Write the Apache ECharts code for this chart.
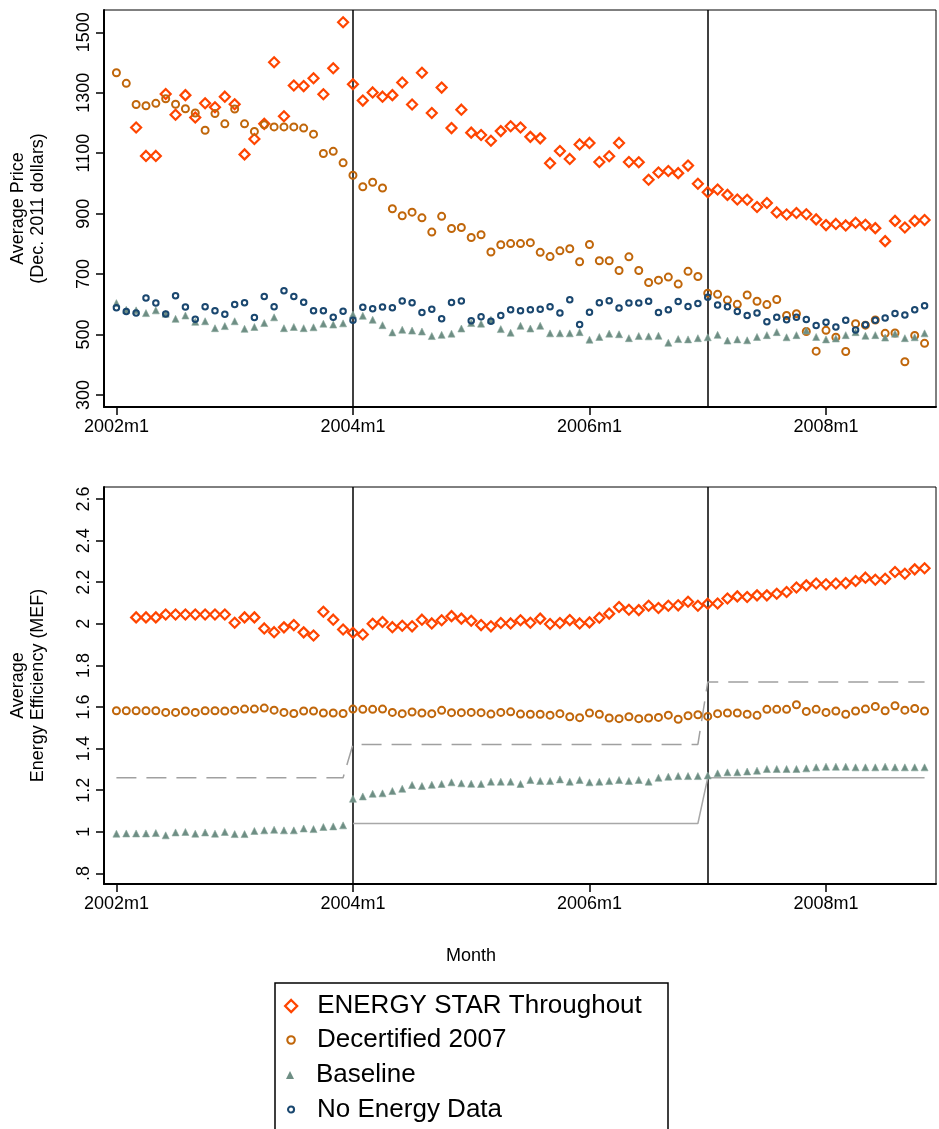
<!DOCTYPE html>
<html>
<head>
<meta charset="utf-8">
<script src="https://cdn.jsdelivr.net/npm/echarts@6/dist/echarts.min.js"></script>
<style>
  html, body { margin: 0; padding: 0; background: #fff; }
  #chart { width: 939px; height: 1129px; }
</style>
</head>
<body>
<div id="chart"></div>
<script>
// months are indexed from 2002m1 (= 0)
const monthTicks = [0, 24, 48, 72];
const monthTickLabels = ['2002m1', '2004m1', '2006m1', '2008m1'];
const eventMonths = [24, 60];

const priceTicks = [300, 500, 700, 900, 1100, 1300, 1500];
const mefTicks = [0.8, 1, 1.2, 1.4, 1.6, 1.8, 2, 2.2, 2.4, 2.6];
const mefTickLabels = ['.8', '1', '1.2', '1.4', '1.6', '1.8', '2', '2.2', '2.4', '2.6'];

const seriesNames = ['ENERGY STAR Throughout', 'Decertified 2007', 'Baseline', 'No Energy Data'];

// average price (Dec. 2011 dollars), 2002m1 .. 2008m11
const esPrice = [
  null, null, 1185, 1091, 1091, 1296, 1227, 1292, 1218, 1265,
  1252, 1287, 1262, 1096, 1147, 1197, 1401, 1222, 1324, 1322,
  1348, 1295, 1381, 1533, 1328, 1274, 1301, 1287, 1292, 1334,
  1261, 1366, 1233, 1317, 1183, 1244, 1168, 1160, 1141, 1173,
  1189, 1185, 1154, 1149, 1067, 1107, 1081, 1129, 1134, 1071,
  1090, 1134, 1071, 1070, 1012, 1036, 1041, 1034, 1059, 999,
  971, 980, 962, 947, 946, 922, 935, 904, 897, 902,
  898, 881, 862, 866, 861, 870, 863, 852, 809, 876,
  854, 876, 879
];
const decPrice = [
  1366, 1331, 1261, 1257, 1265, 1280, 1262, 1247, 1233, 1176,
  1231, 1197, 1246, 1197, 1172, 1194, 1187, 1187, 1187, 1183,
  1163, 1099, 1106, 1068, 1027, 989, 1004, 985, 916, 893,
  905, 886, 839, 891, 851, 854, 821, 830, 773, 797,
  801, 801, 804, 772, 758, 777, 784, 741, 798, 744,
  744, 712, 757, 712, 672, 680, 690, 667, 709, 692,
  637, 633, 614, 600, 631, 610, 599, 616, 563, 569,
  510, 445, 514, 491, 444, 536, 531, 548, 504, 505,
  410, 497, 471
];
const basePrice = [
  604, 582, 580, 571, 580, 569, 552, 563, 542, 544,
  521, 528, 544, 519, 525, 538, 557, 521, 525, 521,
  524, 536, 533, 537, 566, 562, 549, 531, 507, 516,
  513, 510, 495, 499, 503, 520, 538, 536, 549, 518,
  506, 529, 520, 529, 504, 504, 504, 508, 483, 492,
  503, 501, 488, 495, 494, 496, 473, 485, 484, 488,
  491, 499, 480, 484, 481, 492, 498, 508, 491, 498,
  513, 492, 484, 487, 498, 508, 496, 498, 490, 503,
  488, 491, 504
];
const noDataPrice = [
  589, 576, 571, 621, 604, 568, 628, 591, 551, 592,
  579, 567, 599, 605, 556, 626, 592, 645, 626, 607,
  579, 579, 557, 577, 547, 590, 585, 591, 589, 611,
  605, 573, 584, 552, 606, 611, 546, 559, 544, 563,
  582, 579, 582, 584, 592, 571, 615, 533, 574, 605,
  612, 588, 604, 604, 610, 573, 582, 609, 593, 603,
  623, 598, 592, 576, 563, 571, 542, 557, 549, 557,
  550, 530, 541, 525, 547, 515, 532, 547, 555, 570,
  565, 582, 595
];

// average energy efficiency (MEF)
const esMef = [
  null, null, 2.031, 2.031, 2.031, 2.045, 2.045, 2.045, 2.045, 2.045,
  2.045, 2.045, 2.005, 2.031, 2.031, 1.978, 1.960, 1.983, 1.994, 1.959,
  1.944, 2.058, 2.020, 1.973, 1.957, 1.949, 2.000, 2.009, 1.984, 1.991,
  1.988, 2.020, 2.002, 2.017, 2.037, 2.025, 2.015, 1.994, 1.988, 2.004,
  2.002, 2.017, 2.005, 2.025, 1.999, 2.004, 2.018, 2.002, 2.007, 2.029,
  2.049, 2.081, 2.068, 2.066, 2.087, 2.076, 2.087, 2.089, 2.106, 2.087,
  2.097, 2.098, 2.122, 2.132, 2.129, 2.137, 2.137, 2.145, 2.153, 2.175,
  2.185, 2.194, 2.190, 2.194, 2.196, 2.206, 2.222, 2.212, 2.217, 2.249,
  2.241, 2.262, 2.267
];
const decMef = [
  1.582, 1.582, 1.582, 1.582, 1.582, 1.574, 1.574, 1.581, 1.574, 1.582,
  1.582, 1.581, 1.585, 1.590, 1.590, 1.595, 1.585, 1.574, 1.569, 1.581,
  1.581, 1.571, 1.571, 1.569, 1.590, 1.589, 1.589, 1.590, 1.574, 1.568,
  1.576, 1.571, 1.568, 1.584, 1.573, 1.573, 1.574, 1.573, 1.566, 1.574,
  1.577, 1.566, 1.565, 1.565, 1.561, 1.568, 1.553, 1.549, 1.571, 1.565,
  1.547, 1.544, 1.553, 1.544, 1.547, 1.550, 1.561, 1.541, 1.558, 1.563,
  1.555, 1.568, 1.571, 1.571, 1.565, 1.560, 1.589, 1.589, 1.589, 1.611,
  1.579, 1.589, 1.574, 1.581, 1.565, 1.581, 1.590, 1.603, 1.582, 1.606,
  1.585, 1.593, 1.581
];
const baseMef = [
  0.991, 0.992, 0.992, 0.992, 0.994, 0.983, 0.997, 0.999, 0.991, 0.997,
  0.991, 0.999, 0.989, 0.989, 1.004, 1.007, 1.010, 1.007, 1.007, 1.016,
  1.013, 1.023, 1.026, 1.031, 1.159, 1.170, 1.183, 1.185, 1.196, 1.207,
  1.225, 1.220, 1.226, 1.230, 1.238, 1.233, 1.231, 1.230, 1.241, 1.241,
  1.241, 1.230, 1.249, 1.244, 1.244, 1.252, 1.241, 1.249, 1.238, 1.241,
  1.244, 1.249, 1.244, 1.249, 1.241, 1.260, 1.265, 1.268, 1.268, 1.268,
  1.271, 1.281, 1.286, 1.286, 1.290, 1.294, 1.302, 1.302, 1.302, 1.302,
  1.305, 1.310, 1.313, 1.313, 1.313, 1.310, 1.310, 1.310, 1.313, 1.310,
  1.310, 1.310, 1.310
];

// efficiency standards (step lines)
const starStdMonths = [0, 23, 24, 59, 60, 82];
const starStdValues = [1.26, 1.26, 1.42, 1.42, 1.72, 1.72];
const fedStdMonths = [24, 59, 60, 82];
const fedStdValues = [1.04, 1.04, 1.26, 1.26];

const FONT = "'Liberation Sans', Arial, Helvetica, sans-serif";
const ES_COLOR = '#ff4500';
const DEC_COLOR = '#c0660a';
const BASE_COLOR = '#6e8e84';
const NODATA_COLOR = '#1a476f';

function pairs(values) {
  return values.map((v, i) => [i, v]).filter((d) => d[1] != null);
}
function pairsAt(months, values) {
  return months.map((m, i) => [m, values[i]]);
}
function pickLabel(ticks, labels) {
  return (v) => {
    const i = ticks.findIndex((t) => Math.abs(t - v) < 1e-6);
    return i < 0 ? '' : labels[i];
  };
}

function xAxisFor(gridIndex) {
  return {
    type: 'value',
    gridIndex: gridIndex,
    min: -1.26,
    max: 83.16,
    axisLine: { show: true, onZero: false, lineStyle: { color: '#000', width: 2 } },
    axisTick: { show: true, customValues: monthTicks, length: 8, lineStyle: { color: '#000', width: 1.5 } },
    axisLabel: {
      customValues: monthTicks,
      formatter: pickLabel(monthTicks, monthTickLabels),
      fontSize: 18, color: '#000', fontFamily: FONT, margin: 11,
    },
    splitLine: { show: false },
  };
}

function yAxisFor(gridIndex, min, max, ticks, labels, name) {
  return {
    type: 'value',
    gridIndex: gridIndex,
    min: min,
    max: max,
    axisLine: { show: true, onZero: false, lineStyle: { color: '#000', width: 2 } },
    axisTick: { show: true, customValues: ticks, length: 8, lineStyle: { color: '#000', width: 1.5 } },
    axisLabel: {
      customValues: ticks,
      formatter: pickLabel(ticks, labels),
      rotate: 90,
      fontSize: 18, color: '#000', fontFamily: FONT, margin: 11,
    },
    splitLine: { show: false },
    name: name,
    nameLocation: 'middle',
    nameRotate: 90,
    nameGap: 56,
    nameTextStyle: { fontSize: 18, lineHeight: 20, color: '#000', fontFamily: FONT },
  };
}

const eventLines = {
  symbol: 'none',
  silent: true,
  z: 1,
  label: { show: false },
  lineStyle: { color: '#000', type: 'solid', width: 1.5, opacity: 1 },
  data: eventMonths.map((m) => ({ xAxis: m })),
};

function esSeries(g, data, withLines) {
  return {
    name: seriesNames[0], type: 'scatter', xAxisIndex: g, yAxisIndex: g,
    symbol: 'diamond', symbolSize: 10, z: 3,
    itemStyle: { color: 'transparent', borderColor: ES_COLOR, borderWidth: 2.2, opacity: 1 },
    data: pairs(data),
    markLine: withLines ? eventLines : undefined,
  };
}
function decSeries(g, data) {
  return {
    name: seriesNames[1], type: 'scatter', xAxisIndex: g, yAxisIndex: g,
    symbol: 'circle', symbolSize: 7, z: 3,
    itemStyle: { color: 'transparent', borderColor: DEC_COLOR, borderWidth: 2, opacity: 1 },
    data: pairs(data),
  };
}
function baseSeries(g, data) {
  return {
    name: seriesNames[2], type: 'scatter', xAxisIndex: g, yAxisIndex: g,
    symbol: 'triangle', symbolSize: 7, z: 3,
    itemStyle: { color: BASE_COLOR, borderColor: '#8aa89c', borderWidth: 0.6, opacity: 1 },
    data: pairs(data),
  };
}

// legend rows: marker centred at x=290, label starting at x~316
const legendRows = [
  { name: seriesNames[0], icon: 'diamond', size: 12, top: 993, style: { color: 'transparent', borderColor: ES_COLOR, borderWidth: 2.3, opacity: 1 } },
  { name: seriesNames[1], icon: 'circle', size: 7.5, top: 1027, style: { color: 'transparent', borderColor: DEC_COLOR, borderWidth: 2.1, opacity: 1 } },
  { name: seriesNames[2], icon: 'triangle', size: 8, top: 1062, style: { color: BASE_COLOR, borderWidth: 0, opacity: 1 } },
  { name: seriesNames[3], icon: 'circle', size: 6, top: 1096.5, style: { color: 'transparent', borderColor: NODATA_COLOR, borderWidth: 2.1, opacity: 1 } },
];

const option = {
  animation: false,
  backgroundColor: '#fff',
  textStyle: { fontFamily: FONT, color: '#000' },
  grid: [
    { left: 103, top: 10, width: 833, height: 397, show: true, borderColor: '#000', borderWidth: 1, backgroundColor: '#fff' },
    { left: 103, top: 487, width: 833, height: 397, show: true, borderColor: '#000', borderWidth: 1, backgroundColor: '#fff' },
  ],
  xAxis: [xAxisFor(0), xAxisFor(1)],
  yAxis: [
    yAxisFor(0, 260.3, 1573.7, priceTicks, priceTicks.map(String), 'Average Price\n(Dec. 2011 dollars)'),
    yAxisFor(1, 0.749, 2.658, mefTicks, mefTickLabels, 'Average\nEnergy Efficiency (MEF)'),
  ],
  legend: legendRows.map((r) => ({
    show: true,
    data: [{ name: r.name, icon: r.icon }],
    left: 290 - r.size / 2,
    top: r.top,
    padding: 0,
    itemWidth: r.size,
    itemHeight: r.size,
    selectedMode: false,
    itemStyle: r.style,
    textStyle: {
      fontSize: 26, lineHeight: 26, color: '#000', fontFamily: FONT,
      padding: [0, 0, 0, 21 - r.size / 2],
    },
  })),
  graphic: [
    {
      type: 'rect',
      shape: { x: 275, y: 983, width: 393, height: 170 },
      style: { fill: 'none', stroke: '#000', lineWidth: 1.5 },
      silent: true,
    },
    {
      type: 'text',
      x: 471, y: 956,
      style: { text: 'Month', fontSize: 18, fontFamily: FONT, fill: '#000', align: 'center', verticalAlign: 'middle' },
      silent: true,
    },
  ],
  series: [
    esSeries(0, esPrice, true),
    decSeries(0, decPrice),
    baseSeries(0, basePrice),
    {
      name: seriesNames[3], type: 'scatter', xAxisIndex: 0, yAxisIndex: 0,
      symbol: 'circle', symbolSize: 5.5, z: 3,
      itemStyle: { color: 'transparent', borderColor: NODATA_COLOR, borderWidth: 2, opacity: 1 },
      data: pairs(noDataPrice),
    },
    {
      name: 'ENERGY STAR standard', type: 'line', xAxisIndex: 1, yAxisIndex: 1,
      symbol: 'none', z: 2, silent: true,
      lineStyle: { color: '#a0a0a0', width: 1.5, type: [20, 10] },
      data: pairsAt(starStdMonths, starStdValues),
    },
    {
      name: 'Federal standard', type: 'line', xAxisIndex: 1, yAxisIndex: 1,
      symbol: 'none', z: 2, silent: true,
      lineStyle: { color: '#a8a8a8', width: 1.5 },
      data: pairsAt(fedStdMonths, fedStdValues),
    },
    esSeries(1, esMef, true),
    decSeries(1, decMef),
    baseSeries(1, baseMef),
  ],
};

const chart = echarts.init(document.getElementById('chart'), null, { renderer: 'canvas' });
chart.setOption(option);
</script>
</body>
</html>
